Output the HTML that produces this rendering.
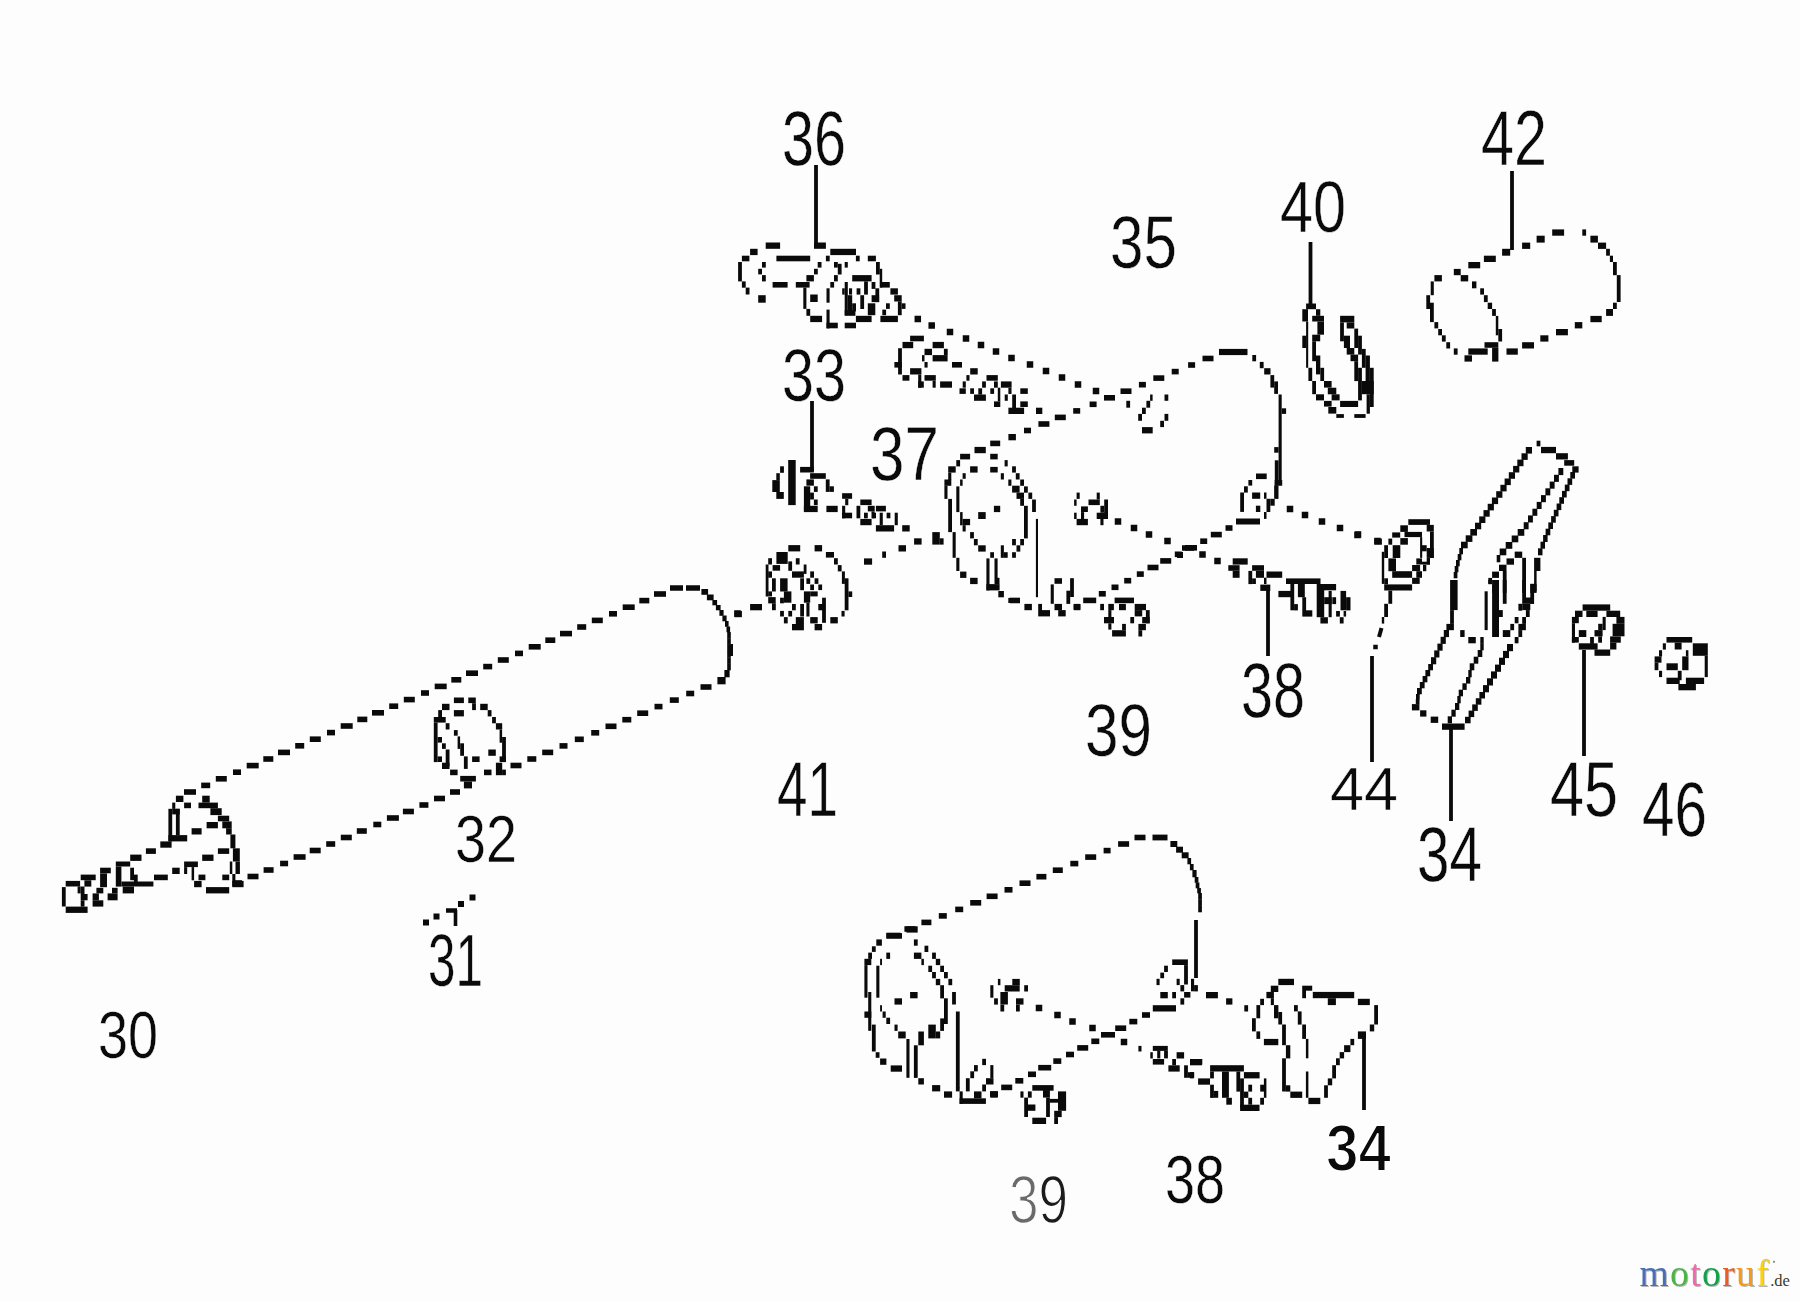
<!DOCTYPE html>
<html lang="de">
<head>
<meta charset="utf-8">
<title>motoruf.de - Ersatzteilzeichnung</title>
<style>
html,body{margin:0;padding:0;background:#fdfdfd;}
body{width:1800px;height:1301px;overflow:hidden;position:relative;font-family:"Liberation Sans",sans-serif;}
svg{position:absolute;left:0;top:0;display:block;}
.ln path,.ln ellipse{fill:none;stroke:#0a0a0a;}
.ln rect{fill:#0a0a0a;stroke:none;}
.num text{font-family:"Liberation Sans",sans-serif;}
.logo{position:absolute;left:1639.5px;top:1250.5px;font-family:"Liberation Serif",serif;font-size:37.5px;line-height:46px;white-space:nowrap;letter-spacing:1.4px;}
.logo .mr{display:inline-block;color:transparent;background:linear-gradient(90deg,#4a6db5 0,#4a6db5 30.4px,#4db344 30.4px,#4db344 50.6px,#ef6aa8 50.6px,#ef6aa8 62.6px,#12a04a 62.6px,#12a04a 82.8px,#ee5a1f 82.8px,#ee5a1f 96.2px,#f39a1b 96.2px,#f39a1b 116.6px,#fbd20c 116.6px,#fbd20c 100%);-webkit-background-clip:text;background-clip:text;filter:drop-shadow(1px 1px 0.6px rgba(0,0,0,.28));}
.logo span.de{font-size:16.5px;color:#3a3a28;letter-spacing:0;text-shadow:none;margin-left:0px;}
</style>
</head>
<body>
<svg width="1800" height="1301" viewBox="0 0 1800 1301">
<rect x="0" y="0" width="1800" height="1301" fill="#fdfdfd"/>
<g class="ln">
<rect x="184.0" y="789.2" width="12" height="5.6"/>
<rect x="201.2" y="782.6" width="9" height="5.6"/>
<rect x="215.8" y="776.0" width="11" height="5.6"/>
<rect x="233.0" y="769.4" width="8" height="5.6"/>
<rect x="246.7" y="762.8" width="12" height="5.6"/>
<rect x="263.3" y="756.2" width="10" height="5.6"/>
<rect x="278.0" y="749.6" width="12" height="5.6"/>
<rect x="295.2" y="743.0" width="9" height="5.6"/>
<rect x="309.8" y="736.4" width="11" height="5.6"/>
<rect x="327.0" y="729.8" width="8" height="5.6"/>
<rect x="340.7" y="723.2" width="12" height="5.6"/>
<rect x="357.3" y="716.6" width="10" height="5.6"/>
<rect x="372.0" y="710.0" width="12" height="5.6"/>
<rect x="389.2" y="703.4" width="9" height="5.6"/>
<rect x="403.8" y="696.8" width="11" height="5.6"/>
<rect x="421.0" y="690.2" width="8" height="5.6"/>
<rect x="434.7" y="683.6" width="12" height="5.6"/>
<rect x="451.3" y="677.0" width="10" height="5.6"/>
<rect x="466.0" y="670.4" width="12" height="5.6"/>
<rect x="483.2" y="663.8" width="9" height="5.6"/>
<rect x="497.8" y="657.2" width="11" height="5.6"/>
<rect x="515.0" y="650.6" width="8" height="5.6"/>
<rect x="528.7" y="644.0" width="12" height="5.6"/>
<rect x="545.3" y="637.4" width="10" height="5.6"/>
<rect x="560.0" y="630.8" width="12" height="5.6"/>
<rect x="577.2" y="624.2" width="9" height="5.6"/>
<rect x="591.8" y="617.6" width="11" height="5.6"/>
<rect x="609.0" y="611.0" width="8" height="5.6"/>
<rect x="622.7" y="604.4" width="12" height="5.6"/>
<rect x="639.3" y="597.8" width="10" height="5.6"/>
<rect x="654.0" y="591.2" width="12" height="5.6"/>
<path d="M670,588 L683,588" stroke-width="5.5"/>
<path d="M686,588 L700,588" stroke-width="5.5"/>
<rect x="701.4" y="589.0" width="6.7" height="5.8"/>
<rect x="706.9" y="594.5" width="6.7" height="5.8"/>
<rect x="712.4" y="600.0" width="4.7" height="5.3"/>
<rect x="715.9" y="605.0" width="4.7" height="5.3"/>
<rect x="719.4" y="610.0" width="4.2" height="5.8"/>
<rect x="722.4" y="615.5" width="4.2" height="5.8"/>
<rect x="725.0" y="621.0" width="3.6" height="5.8"/>
<rect x="726.5" y="626.5" width="3.6" height="5.8"/>
<rect x="727.2" y="632.0" width="3.6" height="6.6"/>
<rect x="727.2" y="638.3" width="3.6" height="6.6"/>
<rect x="727.2" y="644.7" width="3.6" height="6.6"/>
<rect x="727.2" y="651.0" width="3.6" height="6.6"/>
<rect x="727.2" y="657.3" width="3.6" height="6.6"/>
<rect x="727.2" y="663.7" width="3.6" height="6.6"/>
<rect x="724.4" y="670.0" width="5.2" height="7.3"/>
<rect x="717.4" y="677.0" width="8.2" height="7.3"/>
<path d="M731.5,644 L731.5,656" stroke-width="3"/>
<rect x="700.5" y="684.2" width="11" height="5.6"/>
<rect x="686.2" y="690.7" width="8" height="5.6"/>
<rect x="669.8" y="697.3" width="9" height="5.6"/>
<rect x="654.5" y="703.8" width="8" height="5.6"/>
<rect x="637.2" y="710.4" width="11" height="5.6"/>
<rect x="622.3" y="716.9" width="9" height="5.6"/>
<rect x="605.5" y="723.5" width="11" height="5.6"/>
<rect x="591.2" y="730.0" width="8" height="5.6"/>
<rect x="574.8" y="736.5" width="9" height="5.6"/>
<rect x="559.5" y="743.1" width="8" height="5.6"/>
<rect x="542.2" y="749.6" width="11" height="5.6"/>
<rect x="527.3" y="756.2" width="9" height="5.6"/>
<rect x="510.5" y="762.7" width="11" height="5.6"/>
<rect x="450.0" y="789.2" width="10" height="5.6"/>
<rect x="434.0" y="795.7" width="11" height="5.6"/>
<rect x="419.4" y="802.2" width="9" height="5.6"/>
<rect x="402.9" y="808.7" width="11" height="5.6"/>
<rect x="386.9" y="815.2" width="12" height="5.6"/>
<rect x="373.3" y="821.7" width="8" height="5.6"/>
<rect x="356.8" y="828.2" width="10" height="5.6"/>
<rect x="340.8" y="834.7" width="11" height="5.6"/>
<rect x="326.2" y="841.2" width="9" height="5.6"/>
<rect x="309.7" y="847.7" width="11" height="5.6"/>
<rect x="293.6" y="854.2" width="12" height="5.6"/>
<rect x="280.1" y="860.7" width="8" height="5.6"/>
<rect x="263.6" y="867.2" width="10" height="5.6"/>
<rect x="247.5" y="873.7" width="11" height="5.6"/>
<rect x="233.0" y="880.2" width="9" height="5.6"/>
<rect x="453.9" y="697.5" width="10.0" height="5.6"/>
<rect x="468.3" y="697.5" width="7.5" height="5.6"/>
<rect x="472.1" y="703.2" width="3.8" height="6.9"/>
<rect x="442.0" y="703.8" width="7.5" height="6.3"/>
<rect x="480.2" y="703.8" width="7.5" height="6.3"/>
<rect x="453.9" y="710.1" width="10.0" height="6.3"/>
<rect x="438.2" y="710.1" width="3.8" height="6.9"/>
<rect x="433.8" y="717.0" width="11.9" height="5.6"/>
<rect x="433.8" y="722.6" width="3.8" height="39.5"/>
<rect x="445.7" y="723.2" width="3.8" height="6.3"/>
<rect x="437.6" y="737.0" width="4.4" height="5.6"/>
<rect x="442.0" y="743.3" width="3.8" height="5.6"/>
<rect x="445.7" y="749.5" width="3.8" height="16.9"/>
<rect x="437.6" y="756.4" width="4.4" height="5.6"/>
<rect x="442.0" y="762.7" width="7.5" height="6.3"/>
<rect x="450.1" y="769.6" width="7.5" height="5.6"/>
<rect x="453.9" y="730.1" width="3.8" height="5.6"/>
<rect x="457.6" y="736.4" width="2.5" height="12.5"/>
<rect x="460.2" y="743.3" width="3.8" height="12.5"/>
<rect x="463.9" y="756.4" width="3.8" height="12.5"/>
<rect x="487.7" y="710.1" width="3.8" height="6.3"/>
<rect x="492.1" y="717.0" width="3.8" height="6.3"/>
<rect x="495.9" y="723.2" width="6.3" height="6.3"/>
<rect x="499.6" y="729.5" width="2.5" height="13.2"/>
<rect x="502.1" y="737.0" width="3.8" height="25.1"/>
<rect x="499.6" y="756.4" width="6.3" height="5.6"/>
<rect x="495.9" y="762.7" width="6.3" height="12.5"/>
<rect x="502.1" y="769.6" width="3.8" height="5.6"/>
<rect x="488.3" y="749.5" width="7.5" height="6.3"/>
<rect x="472.1" y="756.4" width="7.5" height="5.6"/>
<rect x="484.0" y="769.6" width="7.5" height="5.6"/>
<rect x="460.2" y="775.9" width="15.7" height="5.6"/>
<rect x="463.9" y="781.5" width="8.1" height="6.9"/>
<rect x="175.9" y="795.7" width="7.5" height="6.3"/>
<rect x="184.1" y="802.6" width="6.9" height="5.6"/>
<rect x="202.2" y="795.7" width="7.5" height="6.9"/>
<rect x="198.5" y="802.6" width="19.4" height="5.6"/>
<rect x="210.4" y="808.2" width="11.3" height="6.9"/>
<rect x="217.9" y="815.7" width="11.3" height="5.6"/>
<rect x="222.3" y="821.4" width="9.4" height="6.9"/>
<rect x="226.1" y="828.2" width="5.6" height="6.3"/>
<rect x="230.4" y="834.5" width="5.0" height="13.8"/>
<rect x="232.9" y="848.3" width="6.9" height="13.2"/>
<rect x="235.5" y="861.5" width="4.4" height="12.5"/>
<rect x="229.8" y="861.5" width="2.5" height="12.5"/>
<rect x="206.6" y="822.0" width="11.3" height="6.3"/>
<rect x="191.6" y="828.2" width="10.0" height="6.3"/>
<rect x="217.9" y="848.3" width="11.3" height="5.6"/>
<rect x="202.2" y="854.6" width="11.3" height="6.3"/>
<rect x="172.2" y="802.6" width="3.1" height="6.3"/>
<rect x="168.4" y="808.8" width="3.8" height="32.6"/>
<rect x="175.9" y="808.8" width="3.8" height="26.3"/>
<rect x="172.2" y="808.8" width="7.5" height="5.6"/>
<rect x="168.4" y="835.1" width="18.8" height="6.3"/>
<rect x="160.3" y="841.4" width="11.3" height="6.3"/>
<rect x="145.9" y="848.3" width="10.0" height="5.6"/>
<rect x="130.2" y="854.6" width="11.3" height="6.3"/>
<rect x="115.8" y="861.5" width="14.4" height="5.0"/>
<rect x="115.8" y="866.5" width="5.6" height="20.1"/>
<rect x="130.2" y="867.7" width="3.8" height="12.5"/>
<rect x="133.9" y="874.6" width="3.8" height="9.4"/>
<rect x="121.4" y="881.5" width="32.0" height="5.0"/>
<rect x="122.7" y="886.5" width="11.3" height="6.9"/>
<rect x="112.0" y="887.8" width="5.6" height="5.6"/>
<rect x="107.6" y="893.4" width="10.0" height="6.9"/>
<rect x="100.1" y="867.7" width="10.7" height="5.6"/>
<rect x="100.1" y="873.4" width="6.9" height="13.8"/>
<rect x="96.4" y="887.8" width="6.9" height="5.6"/>
<rect x="92.6" y="893.4" width="6.3" height="6.9"/>
<rect x="92.6" y="900.3" width="10.7" height="6.3"/>
<rect x="80.7" y="874.6" width="15.0" height="5.6"/>
<rect x="84.4" y="880.3" width="6.9" height="6.3"/>
<rect x="80.7" y="886.5" width="3.8" height="7.5"/>
<rect x="80.7" y="894.0" width="6.9" height="6.3"/>
<rect x="80.7" y="900.3" width="3.8" height="6.3"/>
<rect x="65.7" y="880.9" width="14.4" height="5.6"/>
<rect x="61.9" y="887.1" width="3.8" height="19.4"/>
<rect x="77.6" y="886.5" width="3.1" height="6.9"/>
<rect x="65.7" y="906.6" width="21.9" height="6.3"/>
<rect x="154.0" y="874.6" width="13.8" height="5.6"/>
<rect x="172.2" y="867.7" width="7.5" height="6.3"/>
<rect x="184.1" y="861.5" width="13.8" height="5.6"/>
<rect x="184.1" y="867.1" width="3.1" height="6.9"/>
<rect x="191.6" y="867.1" width="2.5" height="13.2"/>
<rect x="194.1" y="880.9" width="7.5" height="6.3"/>
<rect x="198.5" y="874.6" width="6.9" height="5.6"/>
<rect x="222.3" y="874.6" width="6.9" height="5.6"/>
<rect x="232.3" y="874.0" width="3.1" height="12.5"/>
<rect x="232.3" y="880.9" width="11.3" height="6.3"/>
<rect x="206.0" y="887.1" width="23.2" height="6.3"/>
<rect x="423" y="919.5" width="6" height="6"/>
<rect x="433.5" y="913.5" width="6" height="6"/>
<rect x="458" y="901" width="6" height="6"/>
<rect x="469.5" y="894.5" width="6" height="6"/>
<path d="M455.5,910 L455.5,926" stroke-width="3.6"/>
<path d="M446,910.5 L457,910.5" stroke-width="4.5"/>
<rect x="788.3" y="545.1" width="11.9" height="6.3"/>
<rect x="814.6" y="545.1" width="7.5" height="6.3"/>
<rect x="776.4" y="552.0" width="11.3" height="11.9"/>
<rect x="768.2" y="558.2" width="3.8" height="6.3"/>
<rect x="795.8" y="558.2" width="3.8" height="6.3"/>
<rect x="765.7" y="564.5" width="2.8" height="32.0"/>
<rect x="772.6" y="565.1" width="7.5" height="5.6"/>
<rect x="788.3" y="561.4" width="3.8" height="9.4"/>
<rect x="803.7" y="564.5" width="2.8" height="9.4"/>
<rect x="768.2" y="571.4" width="3.8" height="6.3"/>
<rect x="792.0" y="571.4" width="11.9" height="6.3"/>
<rect x="810.2" y="571.4" width="3.8" height="6.3"/>
<rect x="772.0" y="578.3" width="3.8" height="13.2"/>
<rect x="780.1" y="578.3" width="7.5" height="13.2"/>
<rect x="800.2" y="578.3" width="3.8" height="11.9"/>
<rect x="806.4" y="578.3" width="3.8" height="5.6"/>
<rect x="814.6" y="578.3" width="3.8" height="5.6"/>
<rect x="810.2" y="584.5" width="3.8" height="5.6"/>
<rect x="818.3" y="584.5" width="3.8" height="5.6"/>
<rect x="768.2" y="591.4" width="3.8" height="5.0"/>
<rect x="783.9" y="591.4" width="7.5" height="11.3"/>
<rect x="803.9" y="591.4" width="6.3" height="11.3"/>
<rect x="810.2" y="591.4" width="7.5" height="5.0"/>
<rect x="768.2" y="597.1" width="7.5" height="6.3"/>
<rect x="780.1" y="597.7" width="3.8" height="5.6"/>
<rect x="822.1" y="597.7" width="3.8" height="25.1"/>
<rect x="772.0" y="603.3" width="3.8" height="6.9"/>
<rect x="792.0" y="604.0" width="3.8" height="6.3"/>
<rect x="800.2" y="604.0" width="3.8" height="12.5"/>
<rect x="806.4" y="602.7" width="3.1" height="13.8"/>
<rect x="818.3" y="604.0" width="6.9" height="6.3"/>
<rect x="780.1" y="610.9" width="3.8" height="5.6"/>
<rect x="788.3" y="610.9" width="3.8" height="5.6"/>
<rect x="783.9" y="617.1" width="3.8" height="6.3"/>
<rect x="795.8" y="617.1" width="8.1" height="6.9"/>
<rect x="810.2" y="617.1" width="7.5" height="6.3"/>
<rect x="792.0" y="624.0" width="11.9" height="6.3"/>
<rect x="814.6" y="624.0" width="7.5" height="6.3"/>
<rect x="825.9" y="552.0" width="8.1" height="5.6"/>
<rect x="834.0" y="558.2" width="3.8" height="6.3"/>
<rect x="837.8" y="565.1" width="3.8" height="6.3"/>
<rect x="841.9" y="571.4" width="3.0" height="12.5"/>
<rect x="844.7" y="578.3" width="3.8" height="32.0"/>
<rect x="848.4" y="591.4" width="3.8" height="5.6"/>
<rect x="841.5" y="610.9" width="3.1" height="5.6"/>
<rect x="830.3" y="617.1" width="7.5" height="6.3"/>
<rect x="734.4" y="610.9" width="7.5" height="6.3"/>
<rect x="750.1" y="604.0" width="11.9" height="6.3"/>
<rect x="734.25" y="610.25" width="6.5" height="6.5"/>
<rect x="914.1" y="538.3" width="7.5" height="6.3"/>
<rect x="932.3" y="532.1" width="7.5" height="12.5"/>
<rect x="939.8" y="538.3" width="3.8" height="6.3"/>
<rect x="898.5" y="545.2" width="7.5" height="6.3"/>
<rect x="882.2" y="551.5" width="3.8" height="6.3"/>
<rect x="864.0" y="558.4" width="8.1" height="6.3"/>
<path d="M816,165 L816,247" stroke-width="3.8"/>
<path d="M812,401 L812,471" stroke-width="3.8"/>
<path d="M1310.5,242 L1310.5,305" stroke-width="3.8"/>
<path d="M1512,171 L1512,250" stroke-width="3.8"/>
<path d="M1268,586 L1268,656" stroke-width="3.8"/>
<path d="M1372,656 L1372,762" stroke-width="3.8"/>
<path d="M1451,727 L1451,821" stroke-width="3.8"/>
<path d="M1584,650 L1584,756" stroke-width="3.8"/>
<path d="M1364,1033 L1364,1110" stroke-width="3.8"/>
<rect x="814.0" y="242.5" width="11.9" height="6.3"/>
<rect x="765.7" y="242.5" width="14.4" height="6.3"/>
<rect x="750.1" y="248.8" width="7.5" height="6.3"/>
<rect x="741.9" y="255.7" width="7.5" height="5.6"/>
<rect x="738.1" y="262.0" width="3.8" height="19.4"/>
<rect x="741.9" y="281.4" width="3.8" height="6.3"/>
<rect x="745.7" y="287.6" width="3.8" height="6.9"/>
<rect x="758.2" y="295.2" width="7.5" height="7.5"/>
<rect x="776.4" y="255.7" width="33.8" height="5.6"/>
<rect x="762.0" y="262.0" width="3.8" height="5.6"/>
<rect x="758.2" y="268.8" width="3.8" height="5.6"/>
<rect x="762.0" y="275.1" width="3.8" height="6.3"/>
<rect x="772.6" y="282.0" width="15.0" height="5.6"/>
<rect x="795.8" y="282.0" width="13.8" height="5.6"/>
<rect x="817.7" y="262.0" width="3.8" height="5.6"/>
<rect x="814.0" y="268.8" width="3.8" height="5.6"/>
<rect x="806.4" y="275.1" width="7.5" height="6.3"/>
<rect x="803.3" y="287.6" width="3.1" height="21.3"/>
<rect x="806.4" y="308.9" width="3.8" height="6.9"/>
<rect x="810.2" y="315.8" width="11.9" height="6.3"/>
<rect x="810.2" y="294.5" width="7.5" height="7.5"/>
<rect x="830.3" y="248.8" width="25.7" height="6.3"/>
<rect x="825.9" y="255.7" width="3.8" height="5.6"/>
<rect x="855.9" y="255.7" width="3.8" height="5.6"/>
<rect x="867.8" y="255.7" width="8.1" height="5.6"/>
<rect x="834.0" y="262.0" width="3.8" height="5.6"/>
<rect x="837.8" y="263.8" width="3.8" height="10.7"/>
<rect x="844.7" y="262.0" width="3.1" height="5.6"/>
<rect x="834.0" y="275.1" width="3.8" height="6.3"/>
<rect x="830.3" y="282.0" width="3.8" height="5.6"/>
<rect x="826.5" y="288.3" width="3.1" height="14.4"/>
<rect x="826.5" y="309.6" width="3.1" height="18.8"/>
<rect x="826.5" y="322.7" width="11.3" height="5.6"/>
<rect x="844.7" y="322.7" width="11.3" height="5.6"/>
<rect x="876.0" y="262.0" width="3.8" height="12.5"/>
<rect x="879.7" y="268.8" width="2.5" height="18.8"/>
<rect x="880.4" y="282.0" width="9.4" height="5.6"/>
<rect x="890.4" y="288.3" width="7.5" height="6.3"/>
<rect x="894.2" y="295.2" width="7.5" height="6.3"/>
<rect x="897.9" y="301.4" width="3.8" height="13.8"/>
<rect x="901.7" y="303.3" width="3.8" height="5.6"/>
<rect x="880.4" y="315.8" width="17.5" height="6.3"/>
<rect x="886.0" y="303.3" width="3.8" height="5.6"/>
<rect x="882.3" y="309.6" width="3.8" height="5.6"/>
<rect x="852.2" y="275.1" width="19.4" height="6.3"/>
<rect x="844.7" y="282.0" width="3.1" height="33.2"/>
<rect x="842.2" y="288.3" width="2.5" height="6.3"/>
<rect x="849.0" y="288.3" width="3.1" height="6.3"/>
<rect x="856.6" y="288.3" width="3.8" height="6.3"/>
<rect x="864.1" y="281.4" width="3.8" height="13.2"/>
<rect x="871.6" y="282.0" width="3.8" height="6.9"/>
<rect x="875.4" y="288.3" width="3.8" height="13.8"/>
<rect x="847.8" y="295.2" width="4.4" height="16.3"/>
<rect x="860.3" y="295.2" width="3.8" height="13.8"/>
<rect x="852.2" y="303.3" width="3.8" height="8.1"/>
<rect x="844.7" y="310.2" width="10.7" height="5.6"/>
<rect x="867.8" y="303.3" width="7.5" height="11.9"/>
<rect x="855.9" y="315.8" width="15.7" height="6.3"/>
<rect x="871.6" y="295.2" width="7.5" height="6.9"/>
<rect x="914.55" y="315.75" width="6.5" height="6.5"/>
<rect x="928.45" y="322.25" width="6.5" height="6.5"/>
<rect x="946.75" y="328.75" width="6.5" height="6.5"/>
<rect x="962.75" y="335.25" width="6.5" height="6.5"/>
<rect x="977.75" y="341.75" width="6.5" height="6.5"/>
<rect x="992.75" y="348.25" width="6.5" height="6.5"/>
<rect x="1008.25" y="354.75" width="6.5" height="6.5"/>
<rect x="1026.75" y="361.25" width="6.5" height="6.5"/>
<rect x="1042.75" y="367.75" width="6.5" height="6.5"/>
<rect x="1058.75" y="374.25" width="6.5" height="6.5"/>
<rect x="1074.75" y="381.25" width="6.5" height="6.5"/>
<rect x="1092.75" y="387.75" width="6.5" height="6.5"/>
<rect x="910.1" y="335.7" width="13.8" height="5.6"/>
<rect x="902.5" y="341.9" width="10.7" height="6.3"/>
<rect x="898.1" y="348.2" width="3.8" height="26.3"/>
<rect x="894.4" y="362.0" width="7.5" height="5.6"/>
<rect x="902.5" y="375.1" width="6.9" height="5.6"/>
<rect x="910.1" y="368.2" width="11.3" height="6.3"/>
<rect x="918.2" y="374.5" width="3.1" height="13.2"/>
<rect x="918.2" y="381.4" width="5.6" height="6.3"/>
<rect x="924.5" y="375.1" width="11.3" height="5.6"/>
<rect x="932.6" y="380.8" width="3.1" height="6.9"/>
<rect x="932.6" y="341.9" width="11.3" height="6.3"/>
<rect x="924.5" y="348.8" width="7.5" height="6.3"/>
<rect x="943.9" y="348.8" width="3.8" height="6.3"/>
<rect x="932.6" y="355.1" width="15.0" height="6.3"/>
<rect x="922.0" y="355.1" width="2.5" height="6.3"/>
<rect x="924.5" y="362.0" width="3.1" height="5.6"/>
<rect x="952.0" y="362.0" width="10.0" height="5.6"/>
<rect x="970.2" y="368.2" width="7.5" height="6.3"/>
<rect x="940.1" y="381.4" width="11.9" height="6.3"/>
<rect x="966.4" y="375.1" width="3.1" height="5.6"/>
<rect x="962.7" y="381.4" width="3.1" height="6.3"/>
<rect x="959.5" y="388.3" width="6.3" height="5.6"/>
<rect x="986.5" y="375.1" width="11.3" height="5.6"/>
<rect x="982.1" y="381.4" width="3.8" height="6.3"/>
<rect x="994.0" y="381.4" width="3.8" height="6.3"/>
<rect x="970.2" y="388.3" width="3.8" height="5.6"/>
<rect x="978.3" y="388.3" width="3.8" height="6.3"/>
<rect x="974.0" y="394.5" width="11.9" height="6.3"/>
<rect x="990.3" y="388.3" width="3.8" height="5.6"/>
<rect x="997.8" y="387.7" width="2.5" height="13.8"/>
<rect x="994.0" y="401.4" width="6.3" height="5.6"/>
<rect x="1000.9" y="381.4" width="10.7" height="6.3"/>
<rect x="1008.4" y="387.7" width="3.1" height="6.3"/>
<rect x="1004.7" y="394.5" width="3.1" height="6.3"/>
<rect x="1012.2" y="394.5" width="3.8" height="13.8"/>
<rect x="1020.3" y="388.3" width="7.5" height="5.6"/>
<rect x="1020.3" y="401.4" width="7.5" height="5.6"/>
<rect x="1008.4" y="407.7" width="15.7" height="6.3"/>
<rect x="1036.0" y="407.7" width="6.3" height="6.3"/>
<rect x="1008.4" y="434.0" width="7.5" height="6.3"/>
<rect x="780.1" y="466.3" width="3.8" height="6.5"/>
<rect x="776.3" y="473.2" width="3.5" height="6.9"/>
<rect x="772.3" y="480.1" width="7.5" height="11.9"/>
<rect x="776.3" y="492.0" width="7.5" height="6.9"/>
<rect x="788.2" y="460.0" width="7.5" height="45.1"/>
<rect x="800.1" y="466.9" width="13.8" height="5.6"/>
<rect x="810.1" y="473.2" width="15.7" height="5.6"/>
<rect x="825.8" y="479.4" width="3.8" height="12.5"/>
<rect x="829.5" y="486.3" width="4.4" height="5.6"/>
<rect x="806.4" y="479.4" width="7.5" height="6.3"/>
<rect x="803.9" y="486.3" width="6.3" height="25.1"/>
<rect x="813.9" y="486.3" width="3.8" height="5.6"/>
<rect x="810.1" y="492.6" width="3.8" height="6.9"/>
<rect x="813.9" y="499.5" width="3.8" height="5.6"/>
<rect x="803.9" y="505.8" width="13.8" height="6.3"/>
<rect x="826.4" y="505.8" width="11.3" height="6.3"/>
<rect x="842.1" y="493.2" width="10.0" height="5.6"/>
<rect x="845.2" y="498.9" width="3.1" height="6.3"/>
<rect x="842.1" y="505.8" width="3.1" height="12.5"/>
<rect x="842.1" y="512.7" width="10.0" height="5.6"/>
<rect x="860.3" y="499.5" width="11.3" height="5.6"/>
<rect x="856.5" y="505.8" width="3.8" height="12.5"/>
<rect x="867.8" y="505.8" width="6.9" height="5.6"/>
<rect x="871.5" y="511.4" width="3.1" height="6.9"/>
<rect x="864.0" y="512.7" width="3.8" height="5.6"/>
<rect x="860.3" y="518.9" width="11.3" height="6.3"/>
<rect x="875.9" y="505.8" width="10.0" height="5.6"/>
<rect x="872.2" y="512.7" width="3.8" height="5.6"/>
<rect x="879.7" y="512.7" width="3.1" height="12.5"/>
<rect x="886.6" y="512.7" width="3.8" height="5.6"/>
<rect x="894.7" y="512.7" width="3.1" height="12.5"/>
<rect x="875.9" y="525.2" width="18.2" height="6.3"/>
<rect x="902.2" y="525.2" width="7.5" height="6.3"/>
<rect x="1024.0" y="427.7" width="7" height="5.6"/>
<rect x="1038.4" y="421.2" width="11" height="5.6"/>
<rect x="1054.8" y="414.6" width="11" height="5.6"/>
<rect x="1073.2" y="408.1" width="7" height="5.6"/>
<rect x="1089.6" y="401.5" width="7" height="5.6"/>
<rect x="1104.0" y="395.0" width="11" height="5.6"/>
<rect x="1120.5" y="388.4" width="11" height="5.6"/>
<rect x="1138.9" y="381.9" width="7" height="5.6"/>
<rect x="1153.3" y="375.3" width="11" height="5.6"/>
<rect x="1171.7" y="368.8" width="7" height="5.6"/>
<rect x="1188.1" y="362.2" width="7" height="5.6"/>
<rect x="1202.5" y="355.7" width="11" height="5.6"/>
<path d="M1219,352 L1247.5,352" stroke-width="6.2"/>
<rect x="1252.3" y="355.0" width="3.8" height="6.3"/>
<rect x="1259.8" y="361.9" width="3.8" height="6.3"/>
<rect x="1264.2" y="368.2" width="6.3" height="6.3"/>
<rect x="1270.4" y="375.1" width="3.8" height="12.5"/>
<rect x="1274.2" y="381.4" width="3.8" height="12.5"/>
<rect x="1278.6" y="394.5" width="3.1" height="90.9"/>
<rect x="1281.7" y="408.3" width="4.4" height="5.6"/>
<rect x="1274.2" y="447.1" width="4.4" height="5.6"/>
<rect x="1274.8" y="460.3" width="3.8" height="25.1"/>
<rect x="1274.2" y="485.4" width="3.8" height="13.2"/>
<rect x="1256.0" y="473.5" width="10.7" height="5.6"/>
<rect x="1248.4" y="480.0" width="3.8" height="5.6"/>
<rect x="1244.0" y="486.3" width="3.8" height="6.3"/>
<rect x="1240.2" y="492.5" width="3.8" height="19.4"/>
<rect x="1252.1" y="492.5" width="8.1" height="6.3"/>
<rect x="1255.9" y="505.7" width="4.4" height="6.3"/>
<rect x="1264.0" y="492.5" width="2.5" height="6.3"/>
<rect x="1266.5" y="498.8" width="3.8" height="13.2"/>
<rect x="1270.3" y="498.8" width="4.4" height="6.9"/>
<rect x="1274.7" y="485.6" width="3.8" height="13.2"/>
<rect x="1274.7" y="480.0" width="7.5" height="5.6"/>
<rect x="1264.0" y="512.0" width="2.5" height="6.9"/>
<path d="M1236,521.5 L1260,521.5" stroke-width="6"/>
<rect x="1225.5" y="525.2" width="7" height="5.6"/>
<rect x="1210.8" y="531.8" width="11" height="5.6"/>
<rect x="1200.2" y="538.4" width="7" height="5.6"/>
<rect x="1185.0" y="545.0" width="12" height="5.6"/>
<rect x="1174.8" y="551.5" width="7" height="5.6"/>
<rect x="1160.2" y="558.1" width="11" height="5.6"/>
<rect x="1147.5" y="564.7" width="11" height="5.6"/>
<rect x="1136.8" y="571.3" width="7" height="5.6"/>
<rect x="1124.2" y="577.9" width="7" height="5.6"/>
<rect x="1111.5" y="584.5" width="7" height="5.6"/>
<rect x="1098.8" y="591.0" width="7" height="5.6"/>
<rect x="1083.2" y="597.6" width="13" height="5.6"/>
<rect x="1073.5" y="604.2" width="7" height="5.6"/>
<rect x="1286.75" y="505.75" width="6.5" height="6.5"/>
<rect x="1301.75" y="511.75" width="6.5" height="6.5"/>
<rect x="1318.75" y="518.25" width="6.5" height="6.5"/>
<rect x="1336.75" y="524.75" width="6.5" height="6.5"/>
<rect x="1354.75" y="531.25" width="6.5" height="6.5"/>
<rect x="1374.25" y="537.75" width="6.5" height="6.5"/>
<rect x="1126.3" y="400.8" width="3.8" height="6.9"/>
<rect x="1150.1" y="394.5" width="2.5" height="6.3"/>
<rect x="1146.4" y="400.8" width="3.8" height="6.9"/>
<rect x="1142.0" y="407.7" width="3.8" height="6.3"/>
<rect x="1138.2" y="413.9" width="3.8" height="6.9"/>
<rect x="1164.5" y="394.5" width="3.8" height="6.3"/>
<rect x="1164.5" y="413.9" width="3.8" height="6.9"/>
<rect x="1160.2" y="420.8" width="3.8" height="6.3"/>
<rect x="1142.0" y="427.1" width="10.7" height="6.3"/>
<rect x="990.2" y="440.6" width="10.0" height="5.6"/>
<rect x="974.5" y="446.9" width="11.3" height="6.3"/>
<rect x="960.1" y="453.8" width="10.0" height="5.6"/>
<rect x="956.3" y="460.1" width="3.8" height="6.3"/>
<rect x="990.2" y="453.8" width="7.5" height="5.6"/>
<rect x="948.2" y="466.3" width="7.5" height="6.3"/>
<rect x="948.2" y="472.6" width="3.1" height="7.5"/>
<rect x="944.4" y="479.5" width="6.9" height="6.3"/>
<rect x="944.4" y="485.7" width="3.1" height="13.2"/>
<rect x="948.2" y="498.9" width="3.8" height="33.2"/>
<rect x="952.6" y="532.1" width="3.1" height="25.7"/>
<rect x="956.3" y="557.8" width="3.1" height="13.2"/>
<rect x="960.1" y="571.6" width="6.3" height="6.3"/>
<rect x="970.1" y="577.8" width="7.5" height="6.3"/>
<rect x="962.6" y="473.2" width="3.1" height="5.6"/>
<rect x="960.1" y="479.5" width="2.5" height="6.3"/>
<rect x="956.3" y="486.4" width="3.1" height="25.7"/>
<rect x="960.1" y="512.1" width="2.5" height="13.2"/>
<rect x="962.6" y="518.9" width="7.5" height="6.3"/>
<rect x="962.6" y="525.2" width="3.1" height="6.3"/>
<rect x="970.1" y="532.1" width="3.8" height="6.3"/>
<rect x="973.9" y="539.0" width="3.8" height="6.3"/>
<rect x="978.2" y="545.3" width="7.5" height="6.3"/>
<rect x="970.1" y="466.3" width="7.5" height="6.3"/>
<rect x="990.2" y="466.9" width="7.5" height="5.6"/>
<rect x="993.9" y="505.8" width="6.3" height="6.3"/>
<rect x="978.2" y="512.1" width="7.5" height="6.9"/>
<rect x="1004.6" y="460.1" width="3.1" height="6.3"/>
<rect x="1012.1" y="466.3" width="3.8" height="6.3"/>
<rect x="1000.8" y="473.2" width="3.1" height="6.3"/>
<rect x="1015.8" y="473.2" width="3.8" height="6.3"/>
<rect x="1008.3" y="479.5" width="3.1" height="6.3"/>
<rect x="1020.2" y="479.5" width="3.8" height="6.3"/>
<rect x="1012.1" y="485.7" width="7.5" height="6.9"/>
<rect x="1024.0" y="486.4" width="3.8" height="6.3"/>
<rect x="1016.5" y="492.6" width="7.5" height="6.3"/>
<rect x="1028.4" y="492.6" width="3.8" height="6.3"/>
<rect x="1020.2" y="498.9" width="3.8" height="6.9"/>
<rect x="1032.1" y="499.5" width="3.8" height="12.5"/>
<rect x="1024.0" y="505.8" width="3.8" height="32.6"/>
<rect x="1020.2" y="539.0" width="3.8" height="6.3"/>
<rect x="1016.5" y="545.3" width="3.8" height="6.3"/>
<rect x="1012.1" y="552.2" width="3.8" height="5.6"/>
<rect x="1012.1" y="539.0" width="3.8" height="6.3"/>
<rect x="990.2" y="552.2" width="3.8" height="5.6"/>
<rect x="1000.8" y="545.3" width="3.1" height="12.5"/>
<rect x="1003.9" y="552.2" width="3.8" height="5.6"/>
<rect x="986.4" y="558.4" width="3.1" height="32.0"/>
<rect x="994.5" y="558.4" width="3.1" height="25.7"/>
<rect x="986.4" y="584.1" width="13.2" height="6.3"/>
<rect x="996.4" y="577.8" width="3.1" height="6.3"/>
<rect x="998.3" y="591.0" width="5.6" height="6.3"/>
<rect x="1008.3" y="597.9" width="11.3" height="5.1"/>
<rect x="1035.9" y="518.9" width="2.1" height="78.3"/>
<path d="M1010,600.5 L1020,600.5" stroke-width="5.5"/>
<rect x="1024.4" y="603.9" width="7.5" height="6.3"/>
<rect x="1038.2" y="603.9" width="3.8" height="12.5"/>
<rect x="1041.9" y="610.1" width="8.1" height="6.3"/>
<rect x="1054.5" y="578.2" width="7.5" height="5.6"/>
<rect x="1050.7" y="584.4" width="3.1" height="19.4"/>
<rect x="1054.5" y="603.9" width="7.5" height="6.3"/>
<rect x="1058.2" y="610.1" width="7.5" height="6.3"/>
<rect x="1070.1" y="578.2" width="3.8" height="18.8"/>
<rect x="1066.4" y="590.7" width="3.8" height="13.2"/>
<rect x="1073.9" y="603.9" width="6.3" height="6.3"/>
<rect x="1100.2" y="603.9" width="3.8" height="6.3"/>
<rect x="1114.6" y="597.6" width="19.4" height="5.6"/>
<rect x="1108.3" y="603.9" width="5.6" height="6.3"/>
<rect x="1119.0" y="603.9" width="6.9" height="6.3"/>
<rect x="1108.3" y="610.1" width="3.1" height="6.9"/>
<rect x="1104.0" y="617.0" width="10.0" height="6.3"/>
<rect x="1108.3" y="623.3" width="3.1" height="6.3"/>
<rect x="1112.1" y="630.2" width="13.8" height="6.3"/>
<rect x="1122.1" y="623.9" width="3.8" height="6.3"/>
<rect x="1134.7" y="603.9" width="11.3" height="6.3"/>
<rect x="1134.7" y="610.1" width="7.5" height="6.3"/>
<rect x="1145.9" y="610.1" width="3.8" height="13.2"/>
<rect x="1142.2" y="617.0" width="7.5" height="6.3"/>
<rect x="1130.3" y="617.0" width="3.8" height="6.3"/>
<rect x="1138.4" y="623.9" width="7.5" height="6.3"/>
<rect x="1138.4" y="630.2" width="3.8" height="6.3"/>
<rect x="1076.6" y="492.6" width="3.1" height="6.3"/>
<rect x="1074.1" y="499.5" width="2.5" height="6.3"/>
<rect x="1074.1" y="512.7" width="2.5" height="6.3"/>
<rect x="1081.0" y="506.4" width="6.9" height="5.6"/>
<rect x="1081.0" y="512.1" width="3.1" height="6.9"/>
<rect x="1076.6" y="518.9" width="11.3" height="6.3"/>
<rect x="1088.5" y="499.5" width="11.3" height="5.6"/>
<rect x="1096.7" y="492.6" width="3.1" height="6.9"/>
<rect x="1104.2" y="499.5" width="3.8" height="19.4"/>
<rect x="1100.4" y="505.8" width="3.8" height="6.9"/>
<rect x="1096.7" y="512.7" width="11.3" height="6.3"/>
<rect x="1100.4" y="518.9" width="3.1" height="6.3"/>
<rect x="1114.75" y="518.25" width="6.5" height="6.5"/>
<rect x="1130.75" y="524.75" width="6.5" height="6.5"/>
<rect x="1145.75" y="531.25" width="6.5" height="6.5"/>
<rect x="1164.25" y="537.75" width="6.5" height="6.5"/>
<rect x="1199.25" y="551.25" width="6.5" height="6.5"/>
<rect x="1214.25" y="557.75" width="6.5" height="6.5"/>
<path d="M1182,548 L1194,548" stroke-width="5.5"/>
<rect x="1177" y="552" width="6" height="6"/>
<rect x="1232.7" y="558.3" width="15.0" height="6.3"/>
<rect x="1228.3" y="565.2" width="11.3" height="5.6"/>
<rect x="1232.7" y="570.9" width="6.9" height="6.9"/>
<rect x="1252.1" y="565.2" width="11.9" height="5.6"/>
<rect x="1255.9" y="570.9" width="8.1" height="6.9"/>
<rect x="1248.4" y="570.9" width="3.8" height="13.2"/>
<rect x="1252.1" y="578.4" width="3.8" height="5.6"/>
<rect x="1264.0" y="577.7" width="2.5" height="6.3"/>
<rect x="1266.5" y="571.5" width="15.7" height="6.3"/>
<rect x="1260.3" y="584.6" width="10.0" height="6.3"/>
<rect x="1286.0" y="578.4" width="34.5" height="5.6"/>
<rect x="1278.4" y="590.9" width="14.4" height="6.3"/>
<rect x="1290.4" y="584.0" width="3.8" height="26.3"/>
<rect x="1294.1" y="604.1" width="3.8" height="6.3"/>
<rect x="1297.9" y="584.0" width="6.9" height="13.2"/>
<rect x="1302.3" y="597.2" width="3.8" height="19.4"/>
<rect x="1306.0" y="610.3" width="6.3" height="6.3"/>
<rect x="1316.7" y="584.0" width="7.5" height="33.2"/>
<rect x="1320.4" y="617.2" width="7.5" height="6.3"/>
<rect x="1320.4" y="584.0" width="15.7" height="6.3"/>
<rect x="1328.6" y="590.9" width="3.1" height="26.3"/>
<rect x="1332.3" y="597.2" width="3.8" height="6.9"/>
<rect x="1324.2" y="597.2" width="7.5" height="6.9"/>
<rect x="1340.5" y="590.9" width="5.6" height="19.4"/>
<rect x="1346.1" y="597.2" width="4.4" height="13.2"/>
<rect x="1336.1" y="611.0" width="3.8" height="5.6"/>
<rect x="1343.6" y="611.0" width="2.5" height="5.6"/>
<rect x="1339.8" y="617.2" width="3.8" height="6.3"/>
<rect x="1306.1" y="303.5" width="9.9" height="5.7"/>
<rect x="1302.3" y="309.2" width="5.7" height="12.3"/>
<rect x="1306.1" y="321.5" width="2.1" height="46.3"/>
<rect x="1302.3" y="335.7" width="4.0" height="12.3"/>
<rect x="1308.4" y="367.8" width="3.8" height="13.2"/>
<rect x="1312.2" y="381.0" width="3.8" height="13.2"/>
<rect x="1316.0" y="394.3" width="8.0" height="6.1"/>
<rect x="1324.0" y="400.9" width="7.6" height="5.7"/>
<rect x="1328.3" y="407.0" width="8.0" height="6.6"/>
<rect x="1336.3" y="414.1" width="7.6" height="3.8"/>
<rect x="1316.0" y="309.2" width="4.3" height="6.6"/>
<rect x="1312.2" y="315.8" width="11.8" height="5.7"/>
<rect x="1317.4" y="321.5" width="6.6" height="13.2"/>
<rect x="1312.2" y="334.7" width="8.0" height="6.6"/>
<rect x="1312.2" y="341.3" width="3.8" height="19.9"/>
<rect x="1316.0" y="355.5" width="4.3" height="18.9"/>
<rect x="1320.3" y="367.8" width="3.8" height="13.2"/>
<rect x="1324.0" y="381.0" width="7.6" height="6.6"/>
<rect x="1327.8" y="387.7" width="8.5" height="6.6"/>
<rect x="1331.6" y="394.3" width="8.0" height="6.1"/>
<rect x="1340.1" y="400.9" width="18.0" height="6.1"/>
<rect x="1340.1" y="315.8" width="14.2" height="6.6"/>
<rect x="1340.1" y="322.4" width="3.8" height="18.9"/>
<rect x="1346.7" y="322.4" width="7.6" height="6.1"/>
<rect x="1343.9" y="335.7" width="6.1" height="12.3"/>
<rect x="1346.7" y="348.0" width="7.6" height="6.6"/>
<rect x="1350.5" y="354.6" width="7.6" height="6.6"/>
<rect x="1354.3" y="361.2" width="3.8" height="19.9"/>
<rect x="1358.1" y="367.8" width="3.8" height="32.6"/>
<rect x="1354.3" y="328.6" width="3.8" height="19.4"/>
<rect x="1358.1" y="335.7" width="3.8" height="18.9"/>
<rect x="1361.9" y="348.9" width="3.8" height="18.9"/>
<rect x="1365.6" y="355.5" width="4.3" height="25.5"/>
<rect x="1369.9" y="367.8" width="3.8" height="39.2"/>
<rect x="1361.9" y="381.0" width="11.8" height="13.2"/>
<rect x="1366.6" y="394.3" width="3.3" height="19.4"/>
<rect x="1354.3" y="414.1" width="11.3" height="3.8"/>
<rect x="1552.2" y="229.4" width="11.9" height="6.3"/>
<rect x="1536.6" y="235.7" width="8.1" height="6.9"/>
<rect x="1522.1" y="242.6" width="8.1" height="6.3"/>
<rect x="1502.1" y="248.8" width="8.1" height="6.9"/>
<rect x="1483.9" y="255.7" width="11.9" height="6.3"/>
<rect x="1468.3" y="262.0" width="11.9" height="6.3"/>
<rect x="1453.8" y="268.9" width="6.9" height="6.3"/>
<rect x="1460.7" y="275.1" width="7.5" height="6.3"/>
<rect x="1582.3" y="229.4" width="3.8" height="6.3"/>
<rect x="1590.4" y="235.7" width="7.5" height="6.9"/>
<rect x="1598.0" y="242.6" width="8.1" height="6.3"/>
<rect x="1606.1" y="248.8" width="3.8" height="6.9"/>
<rect x="1609.9" y="255.7" width="3.1" height="6.3"/>
<rect x="1613.0" y="262.0" width="3.8" height="13.2"/>
<rect x="1616.8" y="275.1" width="3.8" height="26.9"/>
<rect x="1613.0" y="302.7" width="3.8" height="6.3"/>
<rect x="1606.1" y="309.0" width="6.9" height="6.9"/>
<rect x="1590.4" y="315.9" width="11.3" height="6.3"/>
<rect x="1574.8" y="322.1" width="7.5" height="6.3"/>
<rect x="1556.0" y="329.0" width="11.9" height="6.3"/>
<rect x="1540.3" y="335.3" width="8.1" height="6.3"/>
<rect x="1522.1" y="342.2" width="11.9" height="6.3"/>
<rect x="1506.5" y="348.4" width="11.3" height="6.3"/>
<rect x="1434.4" y="275.1" width="7.5" height="6.3"/>
<rect x="1430.7" y="281.4" width="3.1" height="13.8"/>
<rect x="1426.3" y="295.2" width="3.8" height="13.8"/>
<rect x="1430.0" y="302.7" width="3.8" height="19.4"/>
<rect x="1434.4" y="322.1" width="3.8" height="6.3"/>
<rect x="1438.2" y="329.0" width="3.8" height="6.3"/>
<rect x="1441.9" y="335.3" width="3.8" height="6.3"/>
<rect x="1446.3" y="342.2" width="3.8" height="6.3"/>
<rect x="1453.8" y="348.4" width="3.8" height="6.3"/>
<rect x="1472.0" y="281.4" width="4.4" height="6.9"/>
<rect x="1480.2" y="288.3" width="3.8" height="6.3"/>
<rect x="1483.9" y="295.2" width="3.8" height="6.9"/>
<rect x="1487.7" y="302.7" width="4.4" height="6.3"/>
<rect x="1492.1" y="309.0" width="3.8" height="6.9"/>
<rect x="1495.8" y="315.9" width="2.5" height="19.4"/>
<rect x="1498.3" y="329.0" width="3.8" height="12.5"/>
<rect x="1484.5" y="342.2" width="13.8" height="5.6"/>
<rect x="1468.3" y="348.4" width="19.4" height="6.3"/>
<rect x="1464.5" y="355.3" width="7.5" height="6.3"/>
<rect x="1492.1" y="347.8" width="6.3" height="13.8"/>
<rect x="1374.3" y="538.6" width="7.6" height="6.1"/>
<rect x="1408.3" y="519.2" width="21.7" height="5.7"/>
<rect x="1400.3" y="525.3" width="7.6" height="6.6"/>
<rect x="1426.7" y="524.9" width="7.1" height="6.6"/>
<rect x="1392.2" y="532.4" width="8.0" height="5.2"/>
<rect x="1404.5" y="531.9" width="17.5" height="5.2"/>
<rect x="1430.0" y="531.5" width="3.8" height="26.5"/>
<rect x="1388.4" y="538.6" width="3.8" height="6.1"/>
<rect x="1400.3" y="538.1" width="7.6" height="6.6"/>
<rect x="1420.1" y="537.1" width="2.1" height="20.8"/>
<rect x="1384.2" y="545.2" width="3.8" height="12.8"/>
<rect x="1392.7" y="545.2" width="7.6" height="12.8"/>
<rect x="1422.0" y="545.2" width="4.7" height="6.1"/>
<rect x="1426.7" y="548.0" width="7.1" height="9.9"/>
<rect x="1381.8" y="551.8" width="2.4" height="32.1"/>
<rect x="1388.4" y="558.4" width="7.6" height="12.8"/>
<rect x="1416.3" y="558.4" width="5.7" height="6.1"/>
<rect x="1422.0" y="561.7" width="8.0" height="2.8"/>
<rect x="1426.7" y="558.0" width="3.3" height="6.6"/>
<rect x="1412.1" y="565.0" width="8.0" height="6.1"/>
<rect x="1423.0" y="564.6" width="3.3" height="6.6"/>
<rect x="1392.2" y="571.2" width="19.9" height="6.6"/>
<rect x="1416.3" y="571.2" width="5.7" height="6.6"/>
<rect x="1412.1" y="577.8" width="7.6" height="6.1"/>
<rect x="1384.2" y="578.3" width="3.8" height="6.1"/>
<rect x="1384.2" y="584.4" width="27.9" height="6.1"/>
<rect x="1388.4" y="590.6" width="3.8" height="13.2"/>
<rect x="1384.2" y="603.8" width="3.8" height="13.2"/>
<rect x="1381.8" y="617.0" width="2.4" height="6.6"/>
<rect x="1354.25" y="531.75" width="6.5" height="6.5"/>
<path d="M1381.5,628 L1379,637" stroke-width="4"/>
<rect x="1373.25" y="644.75" width="4.5" height="4.5"/>
<rect x="1525.8" y="447.0" width="6.2" height="6.6"/>
<rect x="1521.5" y="453.3" width="6.2" height="6.6"/>
<rect x="1517.3" y="459.6" width="6.2" height="6.6"/>
<rect x="1513.1" y="465.9" width="6.2" height="6.6"/>
<rect x="1508.8" y="472.2" width="6.2" height="6.6"/>
<rect x="1504.6" y="478.5" width="6.2" height="6.6"/>
<rect x="1500.4" y="484.8" width="6.2" height="6.6"/>
<rect x="1496.2" y="491.2" width="6.2" height="6.6"/>
<rect x="1491.9" y="497.5" width="6.2" height="6.6"/>
<rect x="1487.7" y="503.8" width="6.2" height="6.6"/>
<rect x="1483.5" y="510.1" width="6.2" height="6.6"/>
<rect x="1479.2" y="516.4" width="6.2" height="6.6"/>
<rect x="1475.0" y="522.7" width="6.2" height="6.6"/>
<rect x="1470.3" y="529.0" width="6.7" height="6.6"/>
<rect x="1465.7" y="535.3" width="6.7" height="6.6"/>
<rect x="1461.0" y="541.7" width="6.7" height="6.6"/>
<rect x="1459.3" y="548.0" width="3.7" height="6.3"/>
<rect x="1457.7" y="554.0" width="3.7" height="6.3"/>
<rect x="1456.0" y="560.0" width="3.7" height="6.3"/>
<rect x="1454.7" y="566.0" width="3.7" height="6.3"/>
<rect x="1453.7" y="572.0" width="3.7" height="6.3"/>
<rect x="1450.1" y="580.0" width="7.5" height="30.1"/>
<rect x="1450.1" y="610.1" width="3.8" height="13.8"/>
<rect x="1446.4" y="623.9" width="7.5" height="6.3"/>
<rect x="1443.8" y="630.0" width="5.2" height="7.1"/>
<rect x="1440.6" y="636.8" width="5.2" height="7.1"/>
<rect x="1437.4" y="643.6" width="5.2" height="7.1"/>
<rect x="1434.2" y="650.4" width="5.2" height="7.1"/>
<rect x="1431.0" y="657.2" width="5.2" height="7.1"/>
<rect x="1428.2" y="664.0" width="4.8" height="6.3"/>
<rect x="1425.4" y="670.0" width="4.8" height="6.3"/>
<rect x="1422.6" y="676.0" width="4.8" height="6.3"/>
<rect x="1419.8" y="682.0" width="4.8" height="6.3"/>
<rect x="1417.0" y="688.0" width="4.8" height="6.3"/>
<rect x="1416.0" y="694.0" width="3.7" height="5.3"/>
<rect x="1415.8" y="699.0" width="3.7" height="5.3"/>
<rect x="1411.9" y="704.1" width="7.5" height="6.3"/>
<rect x="1420.1" y="710.3" width="6.3" height="6.3"/>
<rect x="1430.7" y="716.6" width="7.5" height="6.3"/>
<rect x="1442.0" y="723.5" width="22.6" height="6.3"/>
<rect x="1536.6" y="440.7" width="3.8" height="5.6"/>
<rect x="1541.0" y="446.9" width="15.0" height="6.3"/>
<rect x="1556.0" y="453.2" width="11.9" height="6.3"/>
<rect x="1564.2" y="460.1" width="10.0" height="5.6"/>
<rect x="1572.3" y="466.3" width="6.3" height="6.3"/>
<rect x="1570.3" y="472.0" width="4.7" height="6.6"/>
<rect x="1567.5" y="478.3" width="4.7" height="6.6"/>
<rect x="1564.8" y="484.6" width="4.7" height="6.6"/>
<rect x="1562.0" y="490.9" width="4.7" height="6.6"/>
<rect x="1559.3" y="497.2" width="4.7" height="6.6"/>
<rect x="1556.6" y="503.5" width="4.7" height="6.6"/>
<rect x="1553.8" y="509.8" width="4.7" height="6.6"/>
<rect x="1551.1" y="516.1" width="4.7" height="6.6"/>
<rect x="1548.3" y="522.4" width="4.7" height="6.6"/>
<rect x="1545.6" y="528.7" width="4.7" height="6.6"/>
<rect x="1543.1" y="535.0" width="4.5" height="7.0"/>
<rect x="1540.5" y="541.7" width="4.5" height="7.0"/>
<rect x="1538.0" y="548.3" width="4.5" height="7.0"/>
<rect x="1534.1" y="557.8" width="6.3" height="13.2"/>
<rect x="1534.1" y="571.0" width="2.5" height="13.2"/>
<rect x="1530.3" y="584.1" width="6.3" height="8.8"/>
<rect x="1530.3" y="583.8" width="6.3" height="7.5"/>
<rect x="1530.3" y="591.3" width="3.8" height="12.5"/>
<rect x="1525.9" y="597.5" width="8.1" height="6.3"/>
<rect x="1522.2" y="603.8" width="8.1" height="6.3"/>
<rect x="1525.9" y="610.1" width="3.8" height="6.9"/>
<rect x="1522.2" y="617.0" width="3.8" height="6.9"/>
<rect x="1518.4" y="623.9" width="7.5" height="6.3"/>
<rect x="1518.4" y="630.1" width="3.8" height="6.9"/>
<rect x="1514.7" y="637.0" width="3.8" height="6.3"/>
<rect x="1507.0" y="644.0" width="6.0" height="7.2"/>
<rect x="1503.0" y="650.9" width="6.0" height="7.2"/>
<rect x="1499.0" y="657.7" width="6.0" height="7.2"/>
<rect x="1495.0" y="664.6" width="6.0" height="7.2"/>
<rect x="1491.0" y="671.4" width="6.0" height="7.2"/>
<rect x="1487.0" y="678.3" width="6.0" height="7.2"/>
<rect x="1483.0" y="685.1" width="6.0" height="7.2"/>
<rect x="1479.4" y="692.0" width="5.6" height="6.5"/>
<rect x="1475.8" y="698.2" width="5.6" height="6.5"/>
<rect x="1472.2" y="704.4" width="5.6" height="6.5"/>
<rect x="1468.6" y="710.6" width="5.6" height="6.5"/>
<rect x="1465.0" y="716.8" width="5.6" height="6.5"/>
<rect x="1558.4" y="468.0" width="4.9" height="7.1"/>
<rect x="1554.0" y="474.8" width="4.9" height="7.1"/>
<rect x="1549.7" y="481.6" width="4.9" height="7.1"/>
<rect x="1545.4" y="488.3" width="4.9" height="7.1"/>
<rect x="1541.0" y="495.1" width="4.9" height="7.1"/>
<rect x="1536.7" y="501.9" width="4.9" height="7.1"/>
<rect x="1532.4" y="508.7" width="4.9" height="7.1"/>
<rect x="1528.0" y="515.4" width="4.9" height="7.1"/>
<rect x="1523.7" y="522.2" width="4.9" height="7.1"/>
<rect x="1517.7" y="529.0" width="6.6" height="6.8"/>
<rect x="1511.7" y="535.5" width="6.6" height="6.8"/>
<rect x="1505.7" y="542.0" width="6.6" height="6.8"/>
<rect x="1499.7" y="548.5" width="6.6" height="6.8"/>
<rect x="1496.7" y="555.0" width="3.6" height="7.3"/>
<rect x="1514.7" y="551.6" width="7.5" height="6.3"/>
<rect x="1506.5" y="558.4" width="7.5" height="6.3"/>
<rect x="1522.2" y="557.8" width="3.8" height="35.1"/>
<rect x="1499.0" y="564.7" width="7.5" height="6.3"/>
<rect x="1492.1" y="571.6" width="6.9" height="6.3"/>
<rect x="1488.3" y="577.9" width="3.8" height="6.3"/>
<rect x="1492.1" y="584.8" width="6.9" height="8.1"/>
<rect x="1502.8" y="571.0" width="3.8" height="21.9"/>
<rect x="1484.6" y="591.3" width="3.1" height="38.8"/>
<rect x="1492.1" y="580.0" width="6.9" height="57.0"/>
<rect x="1502.8" y="580.0" width="3.8" height="23.8"/>
<rect x="1499.0" y="610.1" width="3.8" height="6.9"/>
<rect x="1522.2" y="580.0" width="3.8" height="23.8"/>
<rect x="1518.4" y="603.8" width="3.8" height="6.9"/>
<rect x="1514.7" y="617.0" width="3.8" height="6.3"/>
<rect x="1510.3" y="623.9" width="3.8" height="6.3"/>
<rect x="1502.8" y="630.1" width="7.5" height="6.9"/>
<rect x="1488.3" y="580.0" width="3.8" height="3.8"/>
<rect x="1460.2" y="630.1" width="4.4" height="6.9"/>
<rect x="1468.3" y="637.0" width="7.5" height="6.3"/>
<rect x="1480.3" y="637.0" width="3.4" height="6.8"/>
<rect x="1480.3" y="643.5" width="3.4" height="6.8"/>
<rect x="1477.7" y="650.0" width="4.6" height="7.0"/>
<rect x="1473.7" y="656.7" width="4.6" height="7.0"/>
<rect x="1469.7" y="663.3" width="4.6" height="7.0"/>
<rect x="1468.3" y="670.0" width="3.4" height="7.3"/>
<rect x="1466.0" y="677.0" width="4.3" height="6.6"/>
<rect x="1462.4" y="683.3" width="4.3" height="6.6"/>
<rect x="1458.7" y="689.7" width="4.3" height="6.6"/>
<rect x="1457.3" y="696.0" width="3.4" height="7.3"/>
<rect x="1455.0" y="703.0" width="4.3" height="7.0"/>
<rect x="1451.4" y="709.7" width="4.3" height="7.0"/>
<rect x="1447.7" y="716.3" width="4.3" height="7.0"/>
<rect x="1582.6" y="604.4" width="27.6" height="6.3"/>
<rect x="1586.3" y="610.7" width="11.3" height="6.3"/>
<rect x="1606.4" y="610.7" width="13.8" height="6.3"/>
<rect x="1575.0" y="610.7" width="7.5" height="6.3"/>
<rect x="1571.9" y="616.9" width="6.9" height="6.3"/>
<rect x="1602.6" y="616.9" width="3.1" height="13.2"/>
<rect x="1616.4" y="616.9" width="8.1" height="6.9"/>
<rect x="1571.9" y="623.2" width="3.1" height="19.4"/>
<rect x="1598.2" y="623.8" width="4.4" height="6.3"/>
<rect x="1612.6" y="623.8" width="11.9" height="12.5"/>
<rect x="1578.8" y="630.1" width="7.5" height="6.9"/>
<rect x="1594.5" y="630.1" width="8.1" height="6.3"/>
<rect x="1598.2" y="636.4" width="3.8" height="6.3"/>
<rect x="1610.1" y="636.4" width="10.7" height="6.3"/>
<rect x="1590.1" y="637.0" width="3.8" height="6.9"/>
<rect x="1571.9" y="637.0" width="6.9" height="5.6"/>
<rect x="1610.1" y="642.6" width="6.3" height="6.9"/>
<rect x="1578.8" y="643.3" width="18.8" height="6.3"/>
<rect x="1594.5" y="649.5" width="15.7" height="6.3"/>
<rect x="1666.5" y="637.0" width="25.7" height="5.6"/>
<rect x="1662.8" y="643.3" width="3.1" height="6.3"/>
<rect x="1674.7" y="642.6" width="6.9" height="6.9"/>
<rect x="1692.8" y="643.3" width="15.0" height="12.5"/>
<rect x="1659.0" y="650.2" width="3.1" height="6.3"/>
<rect x="1685.9" y="650.2" width="2.5" height="6.3"/>
<rect x="1654.6" y="656.4" width="6.9" height="6.3"/>
<rect x="1682.2" y="656.4" width="6.3" height="13.8"/>
<rect x="1654.6" y="662.7" width="3.8" height="7.5"/>
<rect x="1666.5" y="663.3" width="11.3" height="6.9"/>
<rect x="1659.0" y="670.8" width="3.1" height="6.3"/>
<rect x="1677.8" y="670.8" width="3.8" height="9.4"/>
<rect x="1704.7" y="655.8" width="3.1" height="21.3"/>
<rect x="1666.5" y="677.7" width="13.2" height="6.3"/>
<rect x="1685.9" y="677.7" width="18.2" height="6.3"/>
<rect x="1678.4" y="684.0" width="17.5" height="6.3"/>
<rect x="886.5" y="932.7" width="14" height="5.6"/>
<rect x="904.4" y="926.2" width="11" height="5.6"/>
<rect x="921.4" y="919.6" width="10" height="5.6"/>
<rect x="938.8" y="913.1" width="8" height="5.6"/>
<rect x="955.2" y="906.6" width="8" height="5.6"/>
<rect x="970.2" y="900.0" width="11" height="5.6"/>
<rect x="986.6" y="893.5" width="11" height="5.6"/>
<rect x="1004.5" y="887.0" width="8" height="5.6"/>
<rect x="1019.5" y="880.4" width="11" height="5.6"/>
<rect x="1036.4" y="873.9" width="10" height="5.6"/>
<rect x="1052.8" y="867.4" width="10" height="5.6"/>
<rect x="1070.3" y="860.8" width="8" height="5.6"/>
<rect x="1085.2" y="854.3" width="11" height="5.6"/>
<rect x="1103.6" y="847.8" width="7" height="5.6"/>
<rect x="1118.1" y="841.2" width="11" height="5.6"/>
<rect x="1134.5" y="834.7" width="11" height="5.6"/>
<path d="M1152.5,837.5 L1167.5,837.5" stroke-width="5.8"/>
<rect x="1170.4" y="841.0" width="6.9" height="6.0"/>
<rect x="1176.1" y="846.7" width="6.9" height="6.0"/>
<rect x="1181.7" y="852.3" width="6.9" height="6.0"/>
<rect x="1187.4" y="858.0" width="3.7" height="6.3"/>
<rect x="1189.9" y="864.0" width="3.7" height="6.3"/>
<rect x="1192.4" y="870.0" width="4.2" height="7.3"/>
<rect x="1194.7" y="877.0" width="3.7" height="5.8"/>
<rect x="1195.7" y="882.5" width="3.7" height="5.8"/>
<rect x="1197.2" y="888.0" width="3.7" height="5.3"/>
<rect x="1198.2" y="893.0" width="3.7" height="6.6"/>
<rect x="1198.2" y="899.3" width="3.7" height="6.6"/>
<rect x="1198.2" y="905.7" width="3.7" height="6.6"/>
<path d="M1196,920 L1196,978" stroke-width="3.8"/>
<rect x="1172.2" y="959.4" width="15.7" height="5.6"/>
<rect x="1184.1" y="965.1" width="3.8" height="19.4"/>
<rect x="1164.1" y="965.7" width="3.8" height="6.3"/>
<rect x="1160.3" y="972.6" width="3.8" height="5.6"/>
<rect x="1156.5" y="978.8" width="3.1" height="6.3"/>
<rect x="1176.6" y="978.8" width="3.1" height="6.3"/>
<rect x="1180.4" y="985.1" width="3.8" height="6.3"/>
<rect x="1184.1" y="992.0" width="6.3" height="5.6"/>
<rect x="1180.4" y="998.3" width="3.8" height="6.3"/>
<rect x="1160.3" y="992.0" width="7.5" height="6.3"/>
<rect x="1172.2" y="992.0" width="3.8" height="6.3"/>
<rect x="1191.0" y="978.8" width="3.1" height="12.5"/>
<rect x="1194.1" y="985.1" width="3.8" height="6.3"/>
<rect x="1152.8" y="1005.2" width="23.2" height="6.3"/>
<rect x="1206.0" y="992.0" width="11.9" height="6.3"/>
<rect x="1226.1" y="998.3" width="6.3" height="6.3"/>
<rect x="1244.3" y="1005.2" width="3.8" height="6.3"/>
<rect x="1138.4" y="1045.9" width="3.1" height="5.6"/>
<rect x="1152.8" y="1045.9" width="15.0" height="5.0"/>
<rect x="1150.3" y="1052.2" width="2.5" height="6.3"/>
<rect x="1157.2" y="1050.9" width="3.1" height="7.5"/>
<rect x="1164.1" y="1050.9" width="3.8" height="7.5"/>
<rect x="1152.8" y="1059.0" width="11.3" height="5.6"/>
<rect x="1176.6" y="1052.2" width="7.5" height="6.3"/>
<rect x="1172.2" y="1059.0" width="3.8" height="6.3"/>
<rect x="1168.4" y="1065.3" width="11.3" height="6.3"/>
<rect x="1191.0" y="1059.0" width="11.3" height="5.6"/>
<rect x="1184.1" y="1065.3" width="3.8" height="12.5"/>
<rect x="1187.9" y="1072.2" width="6.3" height="5.6"/>
<rect x="1142.0" y="1012.2" width="8" height="5.6"/>
<rect x="1129.3" y="1018.8" width="8" height="5.6"/>
<rect x="1115.2" y="1025.4" width="11" height="5.6"/>
<rect x="1101.0" y="1032.0" width="14" height="5.6"/>
<rect x="1091.3" y="1038.5" width="8" height="5.6"/>
<rect x="1077.2" y="1045.1" width="11" height="5.6"/>
<rect x="1066.0" y="1051.7" width="8" height="5.6"/>
<rect x="1053.3" y="1058.3" width="8" height="5.6"/>
<rect x="1038.2" y="1064.9" width="13" height="5.6"/>
<rect x="1028.0" y="1071.5" width="8" height="5.6"/>
<rect x="1015.3" y="1078.0" width="8" height="5.6"/>
<rect x="1001.2" y="1084.6" width="11" height="5.6"/>
<rect x="990.0" y="1091.2" width="8" height="5.6"/>
<rect x="997.9" y="978.9" width="2.5" height="6.3"/>
<rect x="990.3" y="985.2" width="3.1" height="12.5"/>
<rect x="994.1" y="998.3" width="3.8" height="6.3"/>
<rect x="1012.3" y="978.9" width="7.5" height="6.3"/>
<rect x="1004.7" y="985.2" width="15.0" height="6.3"/>
<rect x="1000.4" y="992.0" width="7.5" height="12.5"/>
<rect x="1000.4" y="1004.6" width="3.8" height="6.9"/>
<rect x="1024.2" y="985.2" width="3.8" height="6.3"/>
<rect x="1016.0" y="998.3" width="7.5" height="6.3"/>
<rect x="1016.0" y="1004.6" width="3.8" height="6.9"/>
<rect x="1035.75" y="1004.75" width="6.5" height="6.5"/>
<rect x="1054.25" y="1011.75" width="6.5" height="6.5"/>
<rect x="1069.25" y="1018.25" width="6.5" height="6.5"/>
<rect x="1089.25" y="1024.75" width="6.5" height="6.5"/>
<rect x="1120.75" y="1038.75" width="6.5" height="6.5"/>
<rect x="1190.0" y="1059.0" width="11.9" height="6.3"/>
<rect x="1190.0" y="1072.1" width="3.8" height="6.3"/>
<rect x="1210.1" y="1065.2" width="33.8" height="6.3"/>
<rect x="1210.1" y="1071.5" width="3.8" height="6.9"/>
<rect x="1198.1" y="1078.4" width="11.9" height="6.3"/>
<rect x="1210.1" y="1084.7" width="3.8" height="13.2"/>
<rect x="1213.8" y="1090.9" width="4.4" height="6.9"/>
<rect x="1222.0" y="1071.5" width="6.9" height="26.3"/>
<rect x="1226.3" y="1097.8" width="5.6" height="6.9"/>
<rect x="1236.4" y="1071.5" width="3.8" height="20.1"/>
<rect x="1240.1" y="1078.4" width="3.8" height="29.4"/>
<rect x="1243.9" y="1072.1" width="15.7" height="6.3"/>
<rect x="1248.3" y="1084.7" width="3.8" height="6.9"/>
<rect x="1243.9" y="1091.6" width="4.4" height="6.3"/>
<rect x="1248.3" y="1097.8" width="3.8" height="6.9"/>
<rect x="1240.1" y="1104.7" width="19.4" height="6.3"/>
<rect x="1260.2" y="1084.7" width="5.0" height="6.9"/>
<rect x="1263.9" y="1078.4" width="2.5" height="19.4"/>
<rect x="1260.2" y="1097.8" width="3.8" height="6.9"/>
<rect x="906.4" y="926.3" width="11.3" height="6.3"/>
<rect x="886.3" y="933.1" width="15.7" height="5.6"/>
<rect x="876.3" y="939.4" width="5.6" height="6.3"/>
<rect x="871.9" y="946.3" width="3.8" height="5.6"/>
<rect x="868.2" y="952.6" width="3.8" height="6.3"/>
<rect x="864.4" y="958.8" width="6.9" height="6.3"/>
<rect x="864.4" y="965.1" width="3.1" height="32.6"/>
<rect x="868.2" y="992.0" width="3.1" height="38.8"/>
<rect x="864.4" y="1011.5" width="6.9" height="6.3"/>
<rect x="871.9" y="1024.6" width="3.8" height="26.9"/>
<rect x="875.7" y="1052.2" width="3.8" height="5.6"/>
<rect x="880.1" y="1058.5" width="6.3" height="6.3"/>
<rect x="890.7" y="1065.4" width="11.3" height="6.3"/>
<rect x="886.3" y="952.6" width="3.8" height="6.3"/>
<rect x="880.1" y="958.8" width="1.9" height="6.3"/>
<rect x="876.3" y="965.7" width="3.1" height="32.0"/>
<rect x="880.1" y="1005.2" width="1.9" height="6.3"/>
<rect x="882.6" y="1011.5" width="3.1" height="6.3"/>
<rect x="886.3" y="1017.7" width="3.8" height="6.3"/>
<rect x="894.5" y="1024.6" width="3.1" height="6.3"/>
<rect x="898.2" y="1031.5" width="7.5" height="6.9"/>
<rect x="910.1" y="992.0" width="7.5" height="6.3"/>
<rect x="894.5" y="998.3" width="7.5" height="6.3"/>
<rect x="913.9" y="939.4" width="3.8" height="6.3"/>
<rect x="924.5" y="945.7" width="3.8" height="6.3"/>
<rect x="913.9" y="952.6" width="7.5" height="6.3"/>
<rect x="921.4" y="958.8" width="2.5" height="6.3"/>
<rect x="932.1" y="952.6" width="3.8" height="6.3"/>
<rect x="935.8" y="958.8" width="4.4" height="6.3"/>
<rect x="928.3" y="965.7" width="3.8" height="6.3"/>
<rect x="940.2" y="965.7" width="3.8" height="6.3"/>
<rect x="932.1" y="972.0" width="3.8" height="6.3"/>
<rect x="944.0" y="972.0" width="3.8" height="6.3"/>
<rect x="935.8" y="978.9" width="4.4" height="6.3"/>
<rect x="948.4" y="978.9" width="3.8" height="6.3"/>
<rect x="940.2" y="985.2" width="3.8" height="13.2"/>
<rect x="952.1" y="992.0" width="3.8" height="12.5"/>
<rect x="944.0" y="998.3" width="3.8" height="25.7"/>
<rect x="940.2" y="1018.4" width="3.8" height="12.5"/>
<rect x="928.3" y="1024.6" width="7.5" height="13.8"/>
<rect x="935.8" y="1031.5" width="4.4" height="6.9"/>
<rect x="918.3" y="1031.5" width="5.6" height="13.8"/>
<rect x="906.4" y="1039.0" width="3.1" height="38.8"/>
<rect x="913.9" y="1045.3" width="3.8" height="32.6"/>
<rect x="955.9" y="1011.5" width="3.8" height="76.6"/>
<rect x="918.3" y="1078.2" width="5.6" height="6.3"/>
<rect x="932.1" y="1085.1" width="8.1" height="6.3"/>
<rect x="944.0" y="1091.4" width="8.1" height="6.3"/>
<rect x="955.9" y="1087.6" width="3.8" height="3.8"/>
<rect x="959.6" y="1091.4" width="3.1" height="12.5"/>
<rect x="959.6" y="1098.3" width="26.3" height="5.6"/>
<rect x="974.0" y="1091.4" width="7.5" height="6.9"/>
<rect x="982.2" y="1058.8" width="3.8" height="6.3"/>
<rect x="974.0" y="1065.1" width="3.8" height="6.3"/>
<rect x="970.3" y="1071.3" width="3.8" height="6.9"/>
<rect x="965.9" y="1078.2" width="3.8" height="13.2"/>
<rect x="990.3" y="1065.1" width="3.1" height="13.2"/>
<rect x="986.0" y="1078.2" width="7.5" height="6.3"/>
<rect x="982.2" y="1084.5" width="3.8" height="6.9"/>
<rect x="990.3" y="1091.4" width="7.5" height="6.3"/>
<rect x="1032.3" y="1085.1" width="21.3" height="5.6"/>
<rect x="1020.4" y="1091.4" width="3.1" height="6.3"/>
<rect x="1027.9" y="1091.4" width="3.8" height="6.3"/>
<rect x="1024.2" y="1097.6" width="3.8" height="19.4"/>
<rect x="1027.9" y="1104.5" width="7.5" height="6.3"/>
<rect x="1043.0" y="1090.1" width="6.9" height="7.5"/>
<rect x="1046.1" y="1097.6" width="3.8" height="19.4"/>
<rect x="1049.9" y="1098.9" width="11.9" height="3.8"/>
<rect x="1058.0" y="1091.4" width="8.1" height="19.4"/>
<rect x="1054.2" y="1110.8" width="7.5" height="6.3"/>
<rect x="1054.2" y="1117.1" width="3.8" height="6.9"/>
<rect x="1032.3" y="1117.7" width="13.8" height="6.3"/>
<rect x="1278.3" y="978.8" width="15.7" height="6.3"/>
<rect x="1270.8" y="985.7" width="7.5" height="6.3"/>
<rect x="1266.4" y="991.9" width="7.5" height="6.3"/>
<rect x="1270.8" y="998.2" width="3.1" height="6.9"/>
<rect x="1260.2" y="998.8" width="3.8" height="6.3"/>
<rect x="1256.4" y="1005.1" width="3.8" height="13.2"/>
<rect x="1252.0" y="1018.2" width="3.8" height="13.2"/>
<rect x="1256.4" y="1031.4" width="3.8" height="7.5"/>
<rect x="1263.9" y="1038.9" width="14.4" height="6.3"/>
<rect x="1274.0" y="1005.1" width="4.4" height="13.2"/>
<rect x="1278.3" y="1012.0" width="3.8" height="12.5"/>
<rect x="1282.1" y="1024.5" width="3.8" height="20.7"/>
<rect x="1285.9" y="1045.2" width="4.4" height="13.2"/>
<rect x="1282.1" y="1058.3" width="3.8" height="33.2"/>
<rect x="1285.9" y="1085.3" width="4.4" height="6.3"/>
<rect x="1290.3" y="1091.6" width="11.9" height="6.3"/>
<rect x="1294.0" y="1005.1" width="3.8" height="6.3"/>
<rect x="1297.8" y="1011.4" width="3.8" height="13.2"/>
<rect x="1302.2" y="1024.5" width="3.8" height="14.4"/>
<rect x="1305.9" y="1038.9" width="2.5" height="19.4"/>
<rect x="1305.9" y="1071.5" width="2.5" height="26.3"/>
<rect x="1308.4" y="1097.8" width="11.9" height="6.3"/>
<rect x="1302.2" y="985.7" width="3.8" height="12.5"/>
<rect x="1305.9" y="985.7" width="6.3" height="5.0"/>
<rect x="1312.8" y="991.9" width="41.4" height="6.3"/>
<rect x="1327.8" y="998.2" width="8.1" height="6.9"/>
<rect x="1357.9" y="998.8" width="11.9" height="6.3"/>
<rect x="1374.2" y="1005.1" width="3.8" height="19.4"/>
<rect x="1369.8" y="1024.5" width="4.4" height="6.9"/>
<rect x="1357.9" y="1031.4" width="8.1" height="7.5"/>
<rect x="1350.4" y="1038.9" width="3.8" height="6.3"/>
<rect x="1344.1" y="1045.2" width="6.3" height="6.9"/>
<rect x="1339.7" y="1052.1" width="4.4" height="6.3"/>
<rect x="1336.0" y="1058.3" width="3.8" height="6.9"/>
<rect x="1332.2" y="1065.2" width="3.8" height="13.2"/>
<rect x="1327.8" y="1078.4" width="4.4" height="6.9"/>
<rect x="1324.1" y="1085.3" width="3.8" height="12.5"/>
<circle cx="1774" cy="1261.8" r="1.1" fill="#888" stroke="none"/>
</g>
<g class="num">
<text x="98" y="1057.8" font-size="67.3" textLength="60" lengthAdjust="spacingAndGlyphs" font-weight="400" fill="#0a0a0a" stroke="#fdfdfd" stroke-width="0.5">30</text>
<text x="428" y="985.8" font-size="74.3" textLength="55" lengthAdjust="spacingAndGlyphs" font-weight="400" fill="#0a0a0a" stroke="#fdfdfd" stroke-width="0.5">31</text>
<text x="455" y="861.8" font-size="67.3" textLength="62" lengthAdjust="spacingAndGlyphs" font-weight="400" fill="#0a0a0a" stroke="#fdfdfd" stroke-width="0.5">32</text>
<text x="777" y="815.8" font-size="77.1" textLength="61" lengthAdjust="spacingAndGlyphs" font-weight="400" fill="#0a0a0a" stroke="#fdfdfd" stroke-width="0.5">41</text>
<text x="782" y="164.8" font-size="77.1" textLength="64" lengthAdjust="spacingAndGlyphs" font-weight="400" fill="#0a0a0a" stroke="#fdfdfd" stroke-width="0.5">36</text>
<text x="782" y="400.8" font-size="74.3" textLength="64" lengthAdjust="spacingAndGlyphs" font-weight="400" fill="#0a0a0a" stroke="#fdfdfd" stroke-width="0.5">33</text>
<text x="870" y="479.8" font-size="75.7" textLength="69" lengthAdjust="spacingAndGlyphs" font-weight="400" fill="#0a0a0a" stroke="#fdfdfd" stroke-width="0.5">37</text>
<text x="1110" y="268.3" font-size="73.6" textLength="67" lengthAdjust="spacingAndGlyphs" font-weight="400" fill="#0a0a0a" stroke="#fdfdfd" stroke-width="0.5">35</text>
<text x="1280" y="231.8" font-size="72.9" textLength="66" lengthAdjust="spacingAndGlyphs" font-weight="400" fill="#0a0a0a" stroke="#fdfdfd" stroke-width="0.5">40</text>
<text x="1481" y="164.8" font-size="77.1" textLength="66" lengthAdjust="spacingAndGlyphs" font-weight="400" fill="#0a0a0a" stroke="#fdfdfd" stroke-width="0.5">42</text>
<text x="1241" y="716.8" font-size="78.5" textLength="64" lengthAdjust="spacingAndGlyphs" font-weight="400" fill="#0a0a0a" stroke="#fdfdfd" stroke-width="0.5">38</text>
<text x="1085" y="755.8" font-size="74.3" textLength="67" lengthAdjust="spacingAndGlyphs" font-weight="400" fill="#0a0a0a" stroke="#fdfdfd" stroke-width="0.5">39</text>
<text x="1330" y="809.8" font-size="60.3" textLength="68" lengthAdjust="spacingAndGlyphs" font-weight="400" fill="#0a0a0a" stroke="#fdfdfd" stroke-width="0.5">44</text>
<text x="1417" y="880.8" font-size="77.1" textLength="65" lengthAdjust="spacingAndGlyphs" font-weight="400" fill="#0a0a0a" stroke="#fdfdfd" stroke-width="0.5">34</text>
<text x="1550" y="815.8" font-size="77.1" textLength="68" lengthAdjust="spacingAndGlyphs" font-weight="400" fill="#0a0a0a" stroke="#fdfdfd" stroke-width="0.5">45</text>
<text x="1642" y="835.8" font-size="77.1" textLength="65" lengthAdjust="spacingAndGlyphs" font-weight="400" fill="#0a0a0a" stroke="#fdfdfd" stroke-width="0.5">46</text>
<text x="1326" y="1170.8" font-size="67.3" textLength="65" lengthAdjust="spacingAndGlyphs" font-weight="700" fill="#0a0a0a" stroke="#fdfdfd" stroke-width="1.8">34</text>
<text x="1165" y="1203.3" font-size="68.0" textLength="60" lengthAdjust="spacingAndGlyphs" font-weight="400" fill="#0a0a0a" stroke="#fdfdfd" stroke-width="0.5">38</text>
<text x="1009" y="1223.3" font-size="68.0" textLength="59" lengthAdjust="spacingAndGlyphs" font-weight="400" fill="#1c1c1c" stroke="#fdfdfd" stroke-width="1.4"><tspan fill="#6a6a6a">3</tspan>9</text>
</g>
</svg>
<div class="logo"><span class="mr">motoruf</span><span class="de">.de</span></div>
</body>
</html>
